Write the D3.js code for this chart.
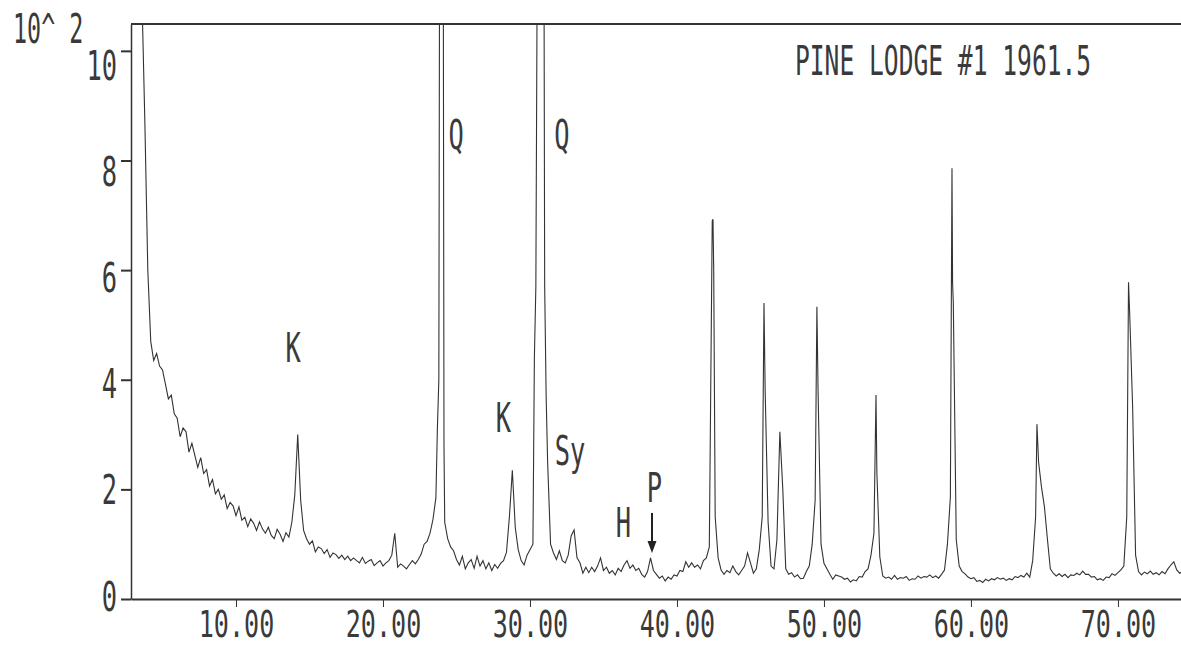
<!DOCTYPE html>
<html>
<head>
<meta charset="utf-8">
<script src="https://cdn.jsdelivr.net/npm/d3@7"></script>
<style>
  body { margin: 0; background: #fff; }
  svg { display: block; }
  .lbl { font-family: "DejaVu Sans Mono", monospace; font-size: 41px; fill: #3a3a3a; }
  .axis path, .axis line { stroke: #333; }
</style>
</head>
<body>
<div id="chart"></div>
<script>
// scan: 2-theta start and step (degrees), counts
const angleStart = 3.6, angleStep = 0.2;
const counts = [
    1100, 870,
    600, 470, 435, 448, 425,   // 4
    418, 392, 365, 372, 338,   // 5
    330, 296, 312, 305, 268,   // 6
    284, 262, 240, 258, 229,   // 7
    236, 206, 218, 192, 200,   // 8
    182, 190, 165, 176, 170,   // 9
    152, 168, 144, 149, 132,   // 10
    146, 138, 125, 141, 128,   // 11
    120, 131, 116, 110, 127,   // 12
    118, 105, 121, 113, 140,   // 13
    190, 300, 180, 125, 110,   // 14
    100, 106, 86, 95, 92,      // 15
    83, 90, 76, 84, 81,        // 16
    74, 80, 72, 78, 70,        // 17
    75, 70, 66, 76, 65,        // 18
    69, 72, 61, 66, 70,        // 19
    60, 66, 70, 80, 120,       // 20
    58, 64, 60, 55, 63,        // 21
    70, 64, 72, 82, 100,       // 22
    105, 120, 145, 185, 400,   // 23
    1200, 140, 110, 95, 88,    // 24
    72, 62, 78, 55, 66,        // 25
    72, 56, 78, 60, 70,        // 26
    55, 66, 52, 63, 56,        // 27
    65, 70, 85, 150, 235,      // 28
    130, 90, 70, 62, 80,       // 29
    90, 100, 570, 1200, 1200,  // 30
    570, 250, 100, 84, 72,     // 31
    88, 70, 66, 80, 115,       // 32
    126, 75, 66, 47, 58,       // 33
    48, 58, 50, 60, 75,        // 34
    52, 58, 47, 52, 44,        // 35
    56, 50, 62, 70, 56,        // 36
    62, 52, 56, 45, 40,        // 37
    50, 75, 52, 45, 38,        // 38
    42, 33, 40, 36, 44,        // 39
    42, 52, 50, 68, 58,        // 40
    66, 58, 62, 55, 70,        // 41
    75, 95, 690, 150, 75,      // 42
    53, 45, 52, 48, 60,        // 43
    50, 44, 52, 60, 84,        // 44
    66, 47, 55, 90, 150,       // 45
    380, 140, 60, 55, 108,     // 46
    305, 200, 55, 45, 48,      // 47
    40, 44, 37, 38, 50,        // 48
    60, 100, 180, 378, 100,    // 49
    65, 55, 45, 36, 44,        // 50
    42, 40, 36, 38, 31,        // 51
    35, 33, 41, 40, 50,        // 52
    55, 80, 120, 230, 77,      // 53
    42, 38, 40, 36, 43,        // 54
    36, 39, 38, 41, 34,        // 55
    37, 36, 42, 38, 41,        // 56
    40, 44, 39, 42, 38,        // 57
    45, 53, 100, 186, 540,     // 58
    108, 60, 50, 46, 40,       // 59
    37, 39, 32, 34, 30,        // 60
    36, 33, 37, 35, 39,        // 61
    36, 38, 34, 37, 35,        // 62
    41, 39, 43, 40, 47,        // 63
    40, 70, 150, 250, 204,     // 64
    168, 110, 55, 47, 42,      // 65
    46, 41, 45, 39, 44,        // 66
    43, 47, 44, 51, 45,        // 67
    45, 40, 41, 35, 37,        // 68
    34, 40, 39, 46, 43,        // 69
    48, 53, 60, 150, 520,      // 70
    350, 80, 50, 44, 49,       // 71
    46, 51, 45, 48, 44,        // 72
    50, 46, 55, 62, 68,        // 73
    53, 47, 50                 // 74
];

// extra readings on the sharp peaks
const peakAngles = [23.7, 23.85, 24.1, 24.15, 30.3, 30.5, 30.95, 31.1, 42.45, 42.5, 45.92, 49.52, 53.54, 58.71, 58.75, 64.49, 70.72];
const peakCounts = [310, 1200, 1200, 280, 440, 1200, 1200, 370, 693, 600, 540, 533, 372, 786, 577, 319, 578];

const xTicks = [10, 20, 30, 40, 50, 60, 70];
const yTicks = [0, 200, 400, 600, 800, 1000];
const title = "PINE LODGE #1 1961.5";
const yUnit = "10^ 2";

// phase labels
const markText = ["K", "Q", "Q", "K", "Sy", "H", "P"];
const markAngle = [13.88, 24.97, 32.18, 28.2, 32.72, 36.36, 38.47];
const markCount = [432, 821, 821, 305, 245, 113, 177];
const arrowAngle = 38.3, arrowFrom = 157, arrowTo = 84;

var margin = {top: 24, right: 0, bottom: 48, left: 131},
    width = 1181 - margin.left - margin.right,
    height = 647 - margin.top - margin.bottom;

var x = d3.scaleLinear().domain([2.857, 74.29]).range([0, width]);
var y = d3.scaleLinear().domain([0, 1049]).range([height, 0]);

var pts = counts.map(function(c, i) {
        return {a: angleStart + i * angleStep, c: c};
    })
    .concat(peakAngles.map(function(a, i) {
        return {a: a, c: peakCounts[i]};
    }))
    .sort(function(p, q) { return p.a - q.a; });

var svg = d3.select("#chart").append("svg")
    .attr("width", 1181)
    .attr("height", 647);

var g = svg.append("g")
    .attr("transform", "translate(" + margin.left + "," + margin.top + ")");

svg.append("defs").append("clipPath")
    .attr("id", "plot")
    .append("rect")
    .attr("width", width)
    .attr("height", height);

// the trace
var line = d3.line()
    .x(function(d) { return x(d.a); })
    .y(function(d) { return y(d.c); });

g.append("path")
    .datum(pts)
    .attr("clip-path", "url(#plot)")
    .attr("fill", "none")
    .attr("stroke", "#333")
    .attr("stroke-width", 1.1)
    .attr("d", line);

// top border
g.append("line")
    .attr("x1", 0).attr("x2", width)
    .attr("y1", 0).attr("y2", 0)
    .attr("stroke", "#333")
    .attr("stroke-width", 2);

// x axis
var xAxis = g.append("g")
    .attr("class", "axis")
    .attr("transform", "translate(0," + height + ")")
    .call(d3.axisBottom(x).tickValues(xTicks).tickSize(8).tickSizeOuter(0)
        .tickFormat(d3.format(".2f")));
xAxis.select(".domain").attr("stroke-width", 2);
xAxis.selectAll("text")
    .attr("class", "lbl")
    .style("font-size", "38px")
    .attr("y", null)
    .attr("dy", null)
    .attr("transform", "translate(0,38) scale(0.66,1)");

// y axis
var yAxis = g.append("g")
    .attr("class", "axis")
    .call(d3.axisLeft(y).tickValues(yTicks).tickSize(10).tickSizeOuter(0)
        .tickFormat(function(d) { return d / 100; }));
yAxis.select(".domain").attr("stroke-width", 1.5);
yAxis.selectAll(".tick line").attr("stroke-width", 2);
yAxis.selectAll("text")
    .attr("class", "lbl")
    .attr("x", null)
    .attr("dy", null)
    .attr("transform", function(d) {
        return "translate(-14," + (11 + d * 0.018) + ") scale(0.62,1)";
    });

// unit and title
svg.append("text")
    .attr("class", "lbl")
    .attr("transform", "translate(13,43) scale(0.57,1)")
    .text(yUnit);

svg.append("text")
    .attr("class", "lbl")
    .attr("transform", "translate(795,75) scale(0.6,1)")
    .text(title);

// phase markers
markText.forEach(function(t, i) {
    g.append("text")
        .attr("class", "lbl")
        .attr("text-anchor", "middle")
        .attr("transform", "translate(" + x(markAngle[i]) + "," + y(markCount[i]) + ") scale(0.62,1)")
        .text(t);
});

var ax = x(arrowAngle), ay1 = y(arrowFrom), ay2 = y(arrowTo);
g.append("line")
    .attr("x1", ax).attr("x2", ax)
    .attr("y1", ay1).attr("y2", ay2 - 10)
    .attr("stroke", "#222")
    .attr("stroke-width", 2);
g.append("path")
    .attr("d", "M" + (ax - 4.5) + "," + (ay2 - 12) + "L" + (ax + 4.5) + "," + (ay2 - 12) + "L" + ax + "," + ay2 + "Z")
    .attr("fill", "#222");
</script>
</body>
</html>
